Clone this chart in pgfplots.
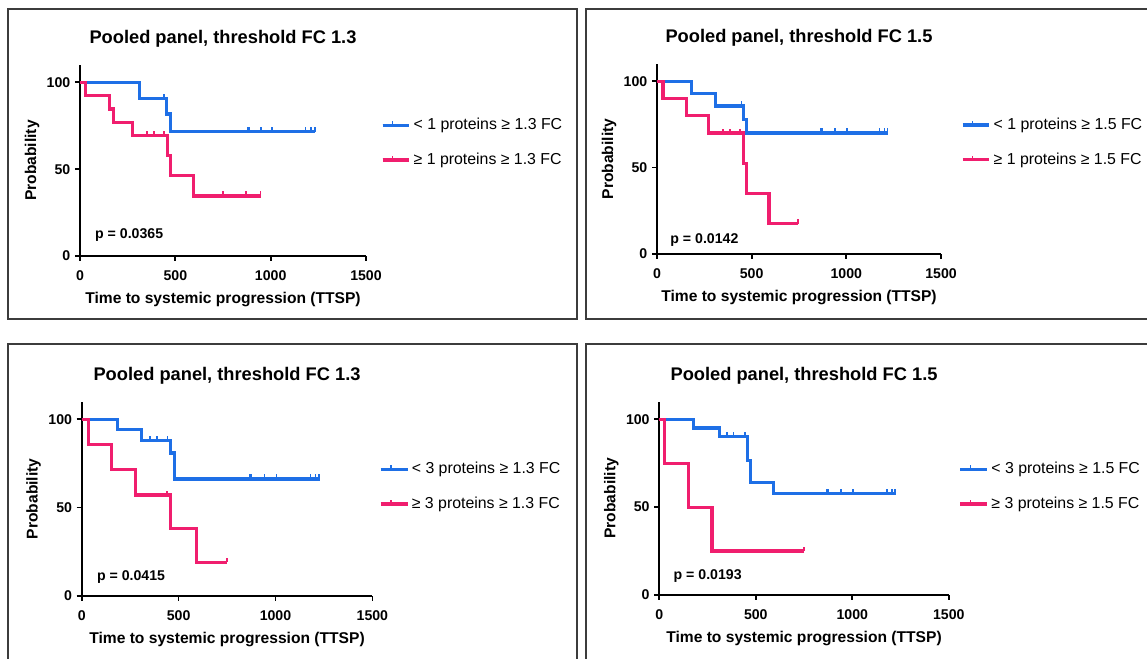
\documentclass[border=0pt]{standalone}
\usepackage{pgfplots}
\pgfplotsset{compat=1.18}
\usepackage{fontspec}
\setmainfont{Liberation Sans}
\definecolor{kmblue}{HTML}{1E6FE6}
\definecolor{kmred}{HTML}{F01E6E}
\definecolor{boxgray}{HTML}{3C3C3C}
\pgfdeclareplotmark{cens}{\pgfpathmoveto{\pgfpointorigin}\pgfpathlineto{\pgfpoint{0pt}{\pgfplotmarksize}}\pgfusepathqstroke}
\pgfplotsset{
  kmaxis/.style={
    scale only axis, axis lines=left, axis line style={-, line width=1.3pt, black},
    xmin=0, xmax=1500, ymin=0, ymax=110, clip=false,
    xtick={0,500,1000,1500}, ytick={0,50,100},
    tick align=outside, major tick length=3.75pt,
    every tick/.style={line width=1.3pt, black},
    ticklabel style={font=\fontsize{10.6}{12}\selectfont\bfseries},
    xticklabel style={yshift=-3.5pt},
    /pgf/number format/assume math mode=true,
    /pgf/number format/1000 sep={},
    xlabel={Time to systemic progression (TTSP)},
    ylabel={Probability},
    label style={font=\fontsize{11.7}{14}\selectfont\bfseries},
    xlabel style={at={([yshift=-33pt]axis description cs:0.5,0)}, anchor=center},
    ylabel style={at={([xshift=-36pt]axis description cs:0,0.5)}, anchor=center, rotate=0},
    title style={at={([yshift=13.5pt]axis description cs:0.5,1)}, anchor=center, font=\fontsize{13.7}{16}\selectfont\bfseries},
    legend style={draw=none, fill=none, anchor=west, inner sep=0pt, row sep=12pt,
      font=\fontsize{11.9}{14}\selectfont, cells={anchor=west}},
    legend cell align=left,
    legend image code/.code={
      \draw[##1] (0pt,0pt) -- (15pt,0pt);
      \draw[##1, line width=1.1pt] (7.5pt,0pt) -- (7.5pt,3pt);
      \path (0pt,0pt) -- (20pt,0pt);
    },
  },
  kmline/.style={const plot mark left, line width=2.4pt, mark=none},
  kmcens/.style={only marks, mark=cens, mark size=3.4pt, line width=1.3pt, forget plot},
}
\begin{document}
\begin{tikzpicture}
\useasboundingbox (0,0) rectangle (860.25pt,494.25pt);
\clip (0,0) rectangle (860.25pt,494.25pt);
\begin{scope}[x=0.75pt,y=0.75pt]
  \draw[boxgray, line width=1.3pt] (8,650) rectangle (577,340);
  \draw[boxgray, line width=1.3pt] (586,650) rectangle (1155,340);
  \draw[boxgray, line width=1.3pt] (8,315) rectangle (577,-8);
  \draw[boxgray, line width=1.3pt] (586,315) rectangle (1155,-8);
  \coordinate (A1) at (80,403);
  \coordinate (A2) at (657,405);
  \coordinate (A3) at (81.7,63);
  \coordinate (A4) at (659.3,64);
\end{scope}

% Panel 1
\begin{axis}[kmaxis, at={(A1)}, anchor=south west, width=214.5pt, height=143.25pt,
  title={Pooled panel, threshold FC 1.3},
  legend style={at={(1.052,0.594)}}]
\addplot[kmblue, kmline] coordinates {(0,100) (310,90.9) (455,81.8) (476,71.6) (1235,71.6)};
\addlegendentry{< 1 proteins ≥ 1.3 FC}
\addplot[kmred, kmline] coordinates {(0,100) (28,92.3) (155,84.6) (177,76.9) (275,69.2) (459,57.7) (476,46.2) (596,34.6) (949,34.6)};
\addlegendentry{≥ 1 proteins ≥ 1.3 FC}
\addplot[kmblue, kmcens] coordinates {(441,90.9) (880,71.6) (887,71.6) (951,71.6) (1007,71.6) (1183,71.6) (1210,71.6) (1232,71.6)};
\addplot[kmred, kmcens] coordinates {(350,69.2) (388,69.2) (441,69.2) (750,34.6) (870,34.6) (946,34.6)};
\node[anchor=west, font=\fontsize{10.6}{12}\selectfont\bfseries] at (axis cs:55,12) {p = 0.0365};
\end{axis}

% Panel 2
\begin{axis}[kmaxis, at={(A2)}, anchor=south west, width=213pt, height=142.5pt,
  title={Pooled panel, threshold FC 1.5},
  legend style={at={(1.07,0.587)}}]
\addplot[kmblue, kmline] coordinates {(0,100) (183,92.9) (310,85.7) (455,78.0) (473,70.1) (1222,70.1)};
\addlegendentry{< 1 proteins ≥ 1.5 FC}
\addplot[kmred, kmline] coordinates {(0,100) (32,90) (155,80) (272,70) (455,52.5) (473,35) (591,17.5) (746,17.5)};
\addlegendentry{≥ 1 proteins ≥ 1.5 FC}
\addplot[kmblue, kmcens] coordinates {(446,85.7) (866,70.1) (873,70.1) (940,70.1) (1002,70.1) (1175,70.1) (1201,70.1) (1218,70.1)};
\addplot[kmred, kmcens] coordinates {(348,70) (384,70) (437,70) (744,17.5)};
\node[anchor=west, font=\fontsize{10.6}{12}\selectfont\bfseries] at (axis cs:46,8.2) {p = 0.0142};
\end{axis}

% Panel 3
\begin{axis}[kmaxis, at={(A3)}, anchor=south west, width=218pt, height=145.8pt,
  title={Pooled panel, threshold FC 1.3},
  legend style={at={(1.023,0.563)}}]
\addplot[kmblue, kmline] coordinates {(0,100) (186,94.1) (310,88.2) (457,80.9) (478,66.2) (1228,66.2)};
\addlegendentry{< 3 proteins ≥ 1.3 FC}
\addplot[kmred, kmline] coordinates {(0,100) (34,85.7) (152,71.4) (276,57.1) (457,38.1) (591,19.0) (750,19.0)};
\addlegendentry{≥ 3 proteins ≥ 1.3 FC}
\addplot[kmblue, kmcens] coordinates {(353,88.2) (388,88.2) (443,88.2) (867,66.2) (872,66.2) (943,66.2) (1005,66.2) (1181,66.2) (1207,66.2) (1224,66.2)};
\addplot[kmred, kmcens] coordinates {(440,57.1) (748,19.0)};
\node[anchor=west, font=\fontsize{10.6}{12}\selectfont\bfseries] at (axis cs:55,10.9) {p = 0.0415};
\end{axis}

% Panel 4
\begin{axis}[kmaxis, at={(A4)}, anchor=south west, width=217.1pt, height=145pt,
  title={Pooled panel, threshold FC 1.5},
  legend style={at={(1.034,0.561)}}]
\addplot[kmblue, kmline] coordinates {(0,100) (176,95) (311,90) (456,76.5) (473,64.1) (591,57.7) (1225,57.7)};
\addlegendentry{< 3 proteins ≥ 1.5 FC}
\addplot[kmred, kmline] coordinates {(0,100) (26,75) (152,50) (273,25) (752,25)};
\addlegendentry{≥ 3 proteins ≥ 1.5 FC}
\addplot[kmblue, kmcens] coordinates {(349,90) (384,90) (444,90) (867,57.7) (873,57.7) (940,57.7) (1002,57.7) (1178,57.7) (1204,57.7) (1222,57.7)};
\addplot[kmred, kmcens] coordinates {(750,25)};
\node[anchor=west, font=\fontsize{10.6}{12}\selectfont\bfseries] at (axis cs:50,10.8) {p = 0.0193};
\end{axis}
\end{tikzpicture}
\end{document}
